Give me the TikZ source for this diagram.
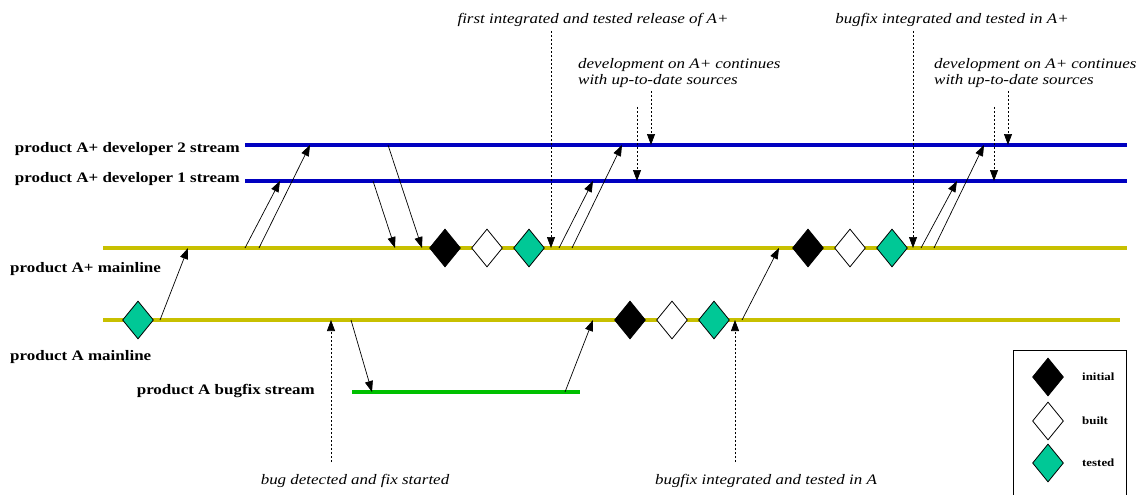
\documentclass[tikz,border=0pt]{standalone}
\usepackage{fontspec}
\setmainfont{Liberation Serif}[FakeStretch=1.17]
\usetikzlibrary{arrows.meta,shapes.geometric}
\definecolor{devblue}{HTML}{0000C0}
\definecolor{mainol}{HTML}{C8C000}
\definecolor{fixgreen}{HTML}{00C000}
\definecolor{testedc}{HTML}{00C896}
\tikzset{
  stream/.style={line width=3.5pt},
  flow/.style={-{Triangle[length=11pt,width=8pt]}, line width=0.7pt},
  note/.style={flow, dash pattern=on 2pt off 2pt},
  dm/.style={diamond, draw, line width=0.8pt, minimum width=31pt, minimum height=38pt, inner sep=0pt},
  dinit/.style={dm, fill=black},
  dbuilt/.style={dm, fill=white},
  dtested/.style={dm, fill=testedc},
  lbl/.style={font=\bfseries\fontsize{14.5}{16}\selectfont, inner sep=0pt},
  ann/.style={font=\itshape\fontsize{14.5}{16}\selectfont, inner sep=0pt},
  leg/.style={font=\bfseries\fontsize{11}{12}\selectfont, inner sep=0pt, anchor=west},
}
\begin{document}
\begin{tikzpicture}[x=1pt,y=-1pt]
\useasboundingbox (0,0) rectangle (1144,495);
% lines
\coordinate (d2s) at (245,145); \coordinate (d2e) at (1127,145);
\coordinate (d1s) at (245,181); \coordinate (d1e) at (1127,181);
\coordinate (aps) at (103,248); \coordinate (ape) at (1127,248);
\coordinate (ams) at (103,320); \coordinate (ame) at (1120,320);
\coordinate (bfs) at (352,392); \coordinate (bfe) at (580,392);
\draw[stream, devblue] (d2s) -- (d2e);
\draw[stream, devblue] (d1s) -- (d1e);
\draw[stream, mainol] (aps) -- (ape);
\draw[stream, mainol] (ams) -- (ame);
\draw[stream, fixgreen] (bfs) -- (bfe);
% labels
\node[lbl, anchor=east] (ld2) at (240,149) {product A+ developer 2 stream};
\node[lbl, anchor=east] (ld1) at (240,179) {product A+ developer 1 stream};
\node[lbl, anchor=west] (lap) at (10,269) {product A+ mainline};
\node[lbl, anchor=west] (lam) at (10,357) {product A mainline};
\node[lbl, anchor=east] (lbf) at (315,391) {product A bugfix stream};
% diamonds
\node[dtested] (t0) at (138,320) {};
\node[dinit] (i1) at (445,248) {};
\node[dbuilt] (b1) at (487,248) {};
\node[dtested] (t1) at (529,248) {};
\node[dinit] (i2) at (630,320) {};
\node[dbuilt] (b2) at (672,320) {};
\node[dtested] (t2) at (714,320) {};
\node[dinit] (i3) at (808,248) {};
\node[dbuilt] (b3) at (850,248) {};
\node[dtested] (t3) at (892,248) {};
% arrow points
\coordinate (p1a) at (160,320); \coordinate (p1b) at (188,248);
\coordinate (p2a) at (245,248); \coordinate (p2b) at (280,181);
\coordinate (p3a) at (259,248); \coordinate (p3b) at (310,145);
\coordinate (p4a) at (373,181); \coordinate (p4b) at (395,248);
\coordinate (p5a) at (388,145); \coordinate (p5b) at (422,248);
\coordinate (p7a) at (559,248); \coordinate (p7b) at (593,181);
\coordinate (p8a) at (572,248); \coordinate (p8b) at (622,145);
\coordinate (p10a) at (742,320); \coordinate (p10b) at (779,248);
\coordinate (p12a) at (921,248); \coordinate (p12b) at (957,181);
\coordinate (p13a) at (934,248); \coordinate (p13b) at (984,145);
\coordinate (p16a) at (351,320); \coordinate (p16b) at (372,392);
\coordinate (p17a) at (565,392); \coordinate (p17b) at (593,320);
\draw[flow] (p1a) -- (p1b);
\draw[flow] (p2a) -- (p2b);
\draw[flow] (p3a) -- (p3b);
\draw[flow] (p4a) -- (p4b);
\draw[flow] (p5a) -- (p5b);
\draw[flow] (p7a) -- (p7b);
\draw[flow] (p8a) -- (p8b);
\draw[flow] (p10a) -- (p10b);
\draw[flow] (p12a) -- (p12b);
\draw[flow] (p13a) -- (p13b);
\draw[flow] (p16a) -- (p16b);
\draw[flow] (p17a) -- (p17b);
% annotations
\node[ann] (n1) at (593,20) {first integrated and tested release of A+};
\node[ann, anchor=west, align=left] (n2) at (578,73) {development on A+ continues\\with up-to-date sources};
\node[ann] (n3) at (952,20) {bugfix integrated and tested in A+};
\node[ann, anchor=west, align=left] (n4) at (934,73) {development on A+ continues\\with up-to-date sources};
\node[ann] (n5) at (355,481) {bug detected and fix started};
\node[ann] (n6) at (766,481) {bugfix integrated and tested in A};
% dashed notes
\coordinate (q6a) at (551,31); \coordinate (q6b) at (551,248);
\coordinate (q9aa) at (637,107); \coordinate (q9ab) at (637,181);
\coordinate (q9ba) at (651,91); \coordinate (q9bb) at (651,145);
\coordinate (q11a) at (913,31); \coordinate (q11b) at (913,248);
\coordinate (q14aa) at (994,107); \coordinate (q14ab) at (994,181);
\coordinate (q14ba) at (1008,91); \coordinate (q14bb) at (1008,145);
\coordinate (q15a) at (331,462); \coordinate (q15b) at (331,320);
\coordinate (q18a) at (735,462); \coordinate (q18b) at (735,320);
\draw[note] (q6a) -- (q6b);
\draw[note] (q9aa) -- (q9ab);
\draw[note] (q9ba) -- (q9bb);
\draw[note] (q11a) -- (q11b);
\draw[note] (q14aa) -- (q14ab);
\draw[note] (q14ba) -- (q14bb);
\draw[note] (q15a) -- (q15b);
\draw[note] (q18a) -- (q18b);
% legend
\draw[line width=1pt] (1013,497) -- (1013,350) -- (1126,350) -- (1126,497);
\node[dinit] (li) at (1048,377) {};
\node[dbuilt] (lb) at (1048,421) {};
\node[dtested] (lt) at (1048,463) {};
\node[leg] (lti) at (1082,377) {initial};
\node[leg] (ltb) at (1082,421) {built};
\node[leg] (ltt) at (1082,463) {tested};
\end{tikzpicture}
\end{document}
